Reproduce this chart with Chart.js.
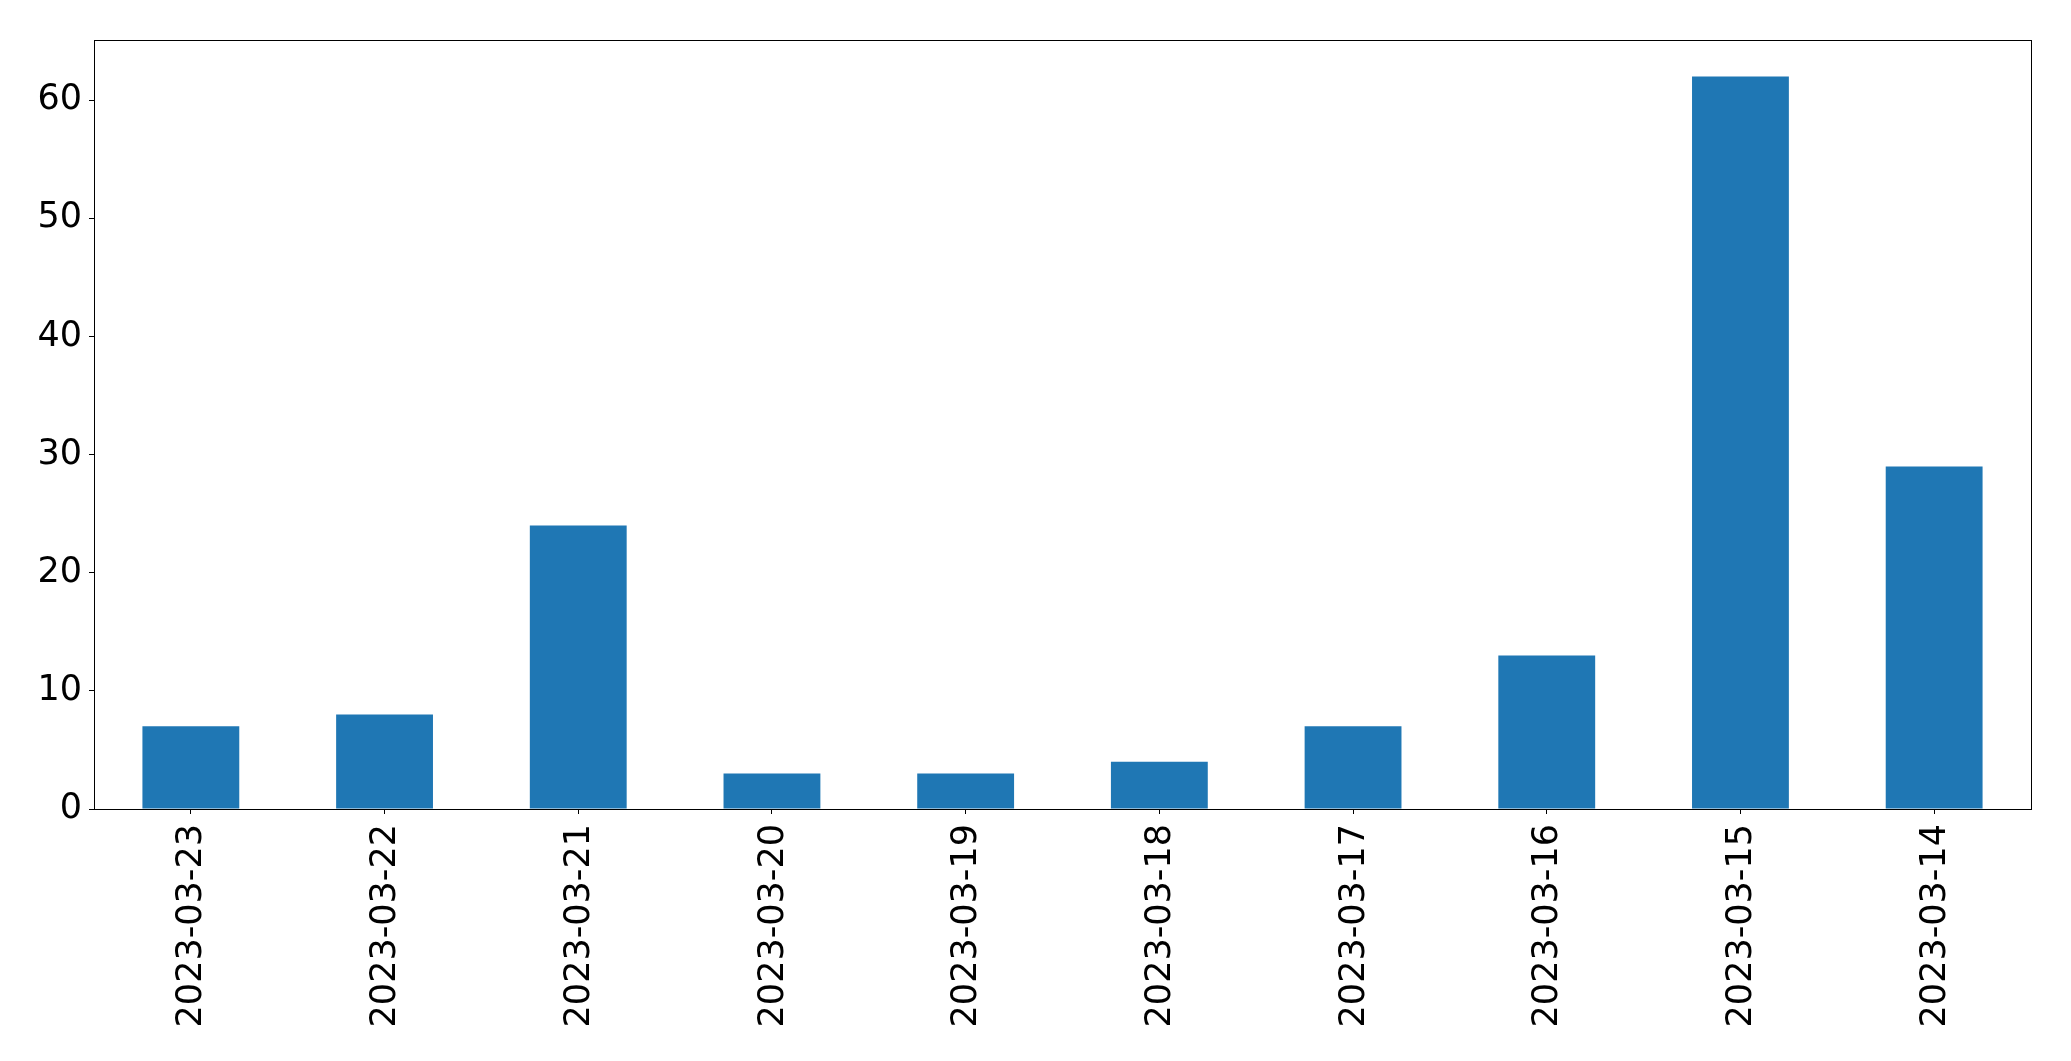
<!DOCTYPE html>
<html>
<head>
<meta charset="utf-8">
<script src="https://cdn.jsdelivr.net/npm/chart.js@4.4.1/dist/chart.umd.min.js"></script>
<style>
  html, body { margin: 0; padding: 0; background: #fff; }
  canvas { display: block; }
</style>
</head>
<body>
<canvas id="barChart" width="2071" height="1061"></canvas>
<script>
// data
const dates = ['2023-03-23', '2023-03-22', '2023-03-21', '2023-03-20', '2023-03-19',
               '2023-03-18', '2023-03-17', '2023-03-16', '2023-03-15', '2023-03-14'];
const counts = [7, 8, 24, 3, 3, 4, 7, 13, 62, 29];
const yTicks = [0, 10, 20, 30, 40, 50, 60];

const yMax = Math.max(...counts) * 1.05;

// box round the plot area (matplotlib-style frame)
const framePlugin = {
    id: 'frame',
    afterDraw(chart) {
        const a = chart.chartArea;
        const ctx = chart.ctx;
        ctx.save();
        ctx.strokeStyle = '#000';
        ctx.lineWidth = 1;
        ctx.strokeRect(Math.round(a.left) + 0.5, Math.round(a.top) + 0.5,
                       Math.round(a.right - a.left), Math.round(a.bottom - a.top));
        ctx.restore();
    }
};

const ctx = document.getElementById('barChart').getContext('2d');
const barChart = new Chart(ctx, {
    type: 'bar',
    data: {
        labels: dates,
        datasets: [{
            data: counts,
            backgroundColor: '#1f77b4',
            borderWidth: 0,
            categoryPercentage: 1.0,
            barPercentage: 0.5
        }]
    },
    options: {
        responsive: false,
        animation: false,
        layout: {
            padding: { left: 0, top: 40, right: 40, bottom: 0 }
        },
        plugins: {
            legend: { display: false },
            tooltip: { enabled: false }
        },
        scales: {
            x: {
                type: 'category',
                offset: true,
                grid: {
                    display: true,
                    drawOnChartArea: false,
                    drawTicks: true,
                    tickLength: 5,
                    tickColor: '#000',
                    offset: false
                },
                border: { display: true, color: '#000', width: 1 },
                ticks: {
                    color: '#000',
                    font: { family: 'DejaVu Sans', size: 35 },
                    minRotation: 90,
                    maxRotation: 90,
                    autoSkip: false,
                    padding: 10,
                    labelOffset: 1.5
                },
                afterFit(scale) { scale.height = 252; }
            },
            y: {
                min: 0,
                max: yMax,
                grid: {
                    display: true,
                    drawOnChartArea: false,
                    drawTicks: true,
                    tickLength: 5,
                    tickColor: '#000'
                },
                border: { display: true, color: '#000', width: 1 },
                afterBuildTicks(scale) {
                    scale.ticks = yTicks.map(v => ({ value: v }));
                },
                ticks: {
                    color: '#000',
                    font: { family: 'DejaVu Sans', size: 35 },
                    padding: 7
                },
                afterFit(scale) { scale.width = 94; }
            }
        }
    },
    plugins: [framePlugin]
});
</script>
</body>
</html>
